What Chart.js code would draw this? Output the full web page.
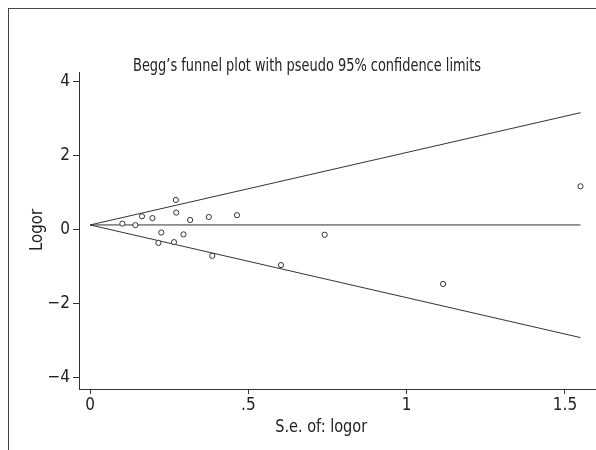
<!DOCTYPE html>
<html>
<head>
<meta charset="utf-8">
<script src="https://cdn.jsdelivr.net/npm/chart.js@4.4.1/dist/chart.umd.min.js"></script>
<style>
  html, body { margin: 0; padding: 0; background: #fff; }
  #wrap { position: relative; width: 596px; height: 450px; }
  #frame { position: absolute; left: 8px; top: 8px; right: 0; bottom: 0;
           border-top: 1.5px solid #444; border-left: 1.5px solid #444; pointer-events: none; }
  canvas { position: absolute; left: 0; top: 0; }
</style>
</head>
<body>
<div id="wrap">
  <canvas id="grafico" width="596" height="450"></canvas>
  <div id="frame"></div>
</div>
<script>
// standard error of each study and its log odds ratio
const seValues    = [0.102, 0.143, 0.164, 0.197, 0.271, 0.272, 0.316, 0.375, 0.464,
                     0.225, 0.216, 0.265, 0.295, 0.386, 0.603, 0.741, 1.115, 1.549];
const logorValues = [0.17, 0.13, 0.37, 0.32, 0.81, 0.47, 0.27, 0.35, 0.40,
                     -0.07, -0.35, -0.33, -0.12, -0.70, -0.95, -0.13, -1.46, 1.18];

// pseudo 95% limits and pooled estimate (endpoints at se = 0 and se = max)
const lineSe    = [0, 1.549];
const upperLim  = [0.135, 3.17];
const pooledLim = [0.135, 0.135];
const lowerLim  = [0.135, -2.91];

const xTicks = [0, 0.5, 1, 1.5];
const xTickLabels = ['0', '.5', '1', '1.5'];
const yTicks = [-4, -2, 0, 2, 4];
const yTickLabels = ['\u22124', '\u22122', '0', '2', '4'];

const fontFam = '"Liberation Sans Narrow", "DejaVu Sans Condensed", "Roboto Condensed", sans-serif';
const ink = '#222';
const lineInk = '#333';

const toPoints = (xs, ys) => xs.map((x, i) => ({ x: x, y: ys[i] }));

const lineSet = (ys) => ({
    type: 'line',
    data: toPoints(lineSe, ys),
    borderColor: lineInk,
    borderWidth: 1,
    pointRadius: 0,
    fill: false,
    order: 2
});

// narrow text: squeeze horizontally so it fits the width of the original condensed face
const drawNarrow = (ctx, text, x, y, size, width, angle) => {
    ctx.save();
    ctx.font = size + 'px ' + fontFam;
    const w = ctx.measureText(text).width;
    ctx.translate(x, y);
    if (angle) ctx.rotate(angle);
    ctx.scale(Math.min(1, width / w), 1);
    ctx.fillText(text, 0, 0);
    ctx.restore();
};

const textPlugin = {
    id: 'textos',
    afterDraw(chart) {
        const ctx = chart.ctx;
        const xs = chart.scales.x;
        ctx.save();
        ctx.fillStyle = ink;
        ctx.textAlign = 'center';
        ctx.textBaseline = 'middle';
        drawNarrow(ctx, 'Begg\u2019s funnel plot with pseudo 95% confidence limits', 307, 66, 18, 348);
        drawNarrow(ctx, 'S.e. of: logor', xs.getPixelForValue(0.73), 427, 18, 92);
        drawNarrow(ctx, 'Logor', 37, chart.scales.y.getPixelForValue(0), 18, 42, -Math.PI / 2);
        ctx.restore();
    }
};

new Chart(document.getElementById('grafico'), {
    type: 'scatter',
    data: {
        datasets: [
            {
                data: toPoints(seValues, logorValues),
                pointStyle: 'circle',
                pointRadius: 2.6,
                pointBorderWidth: 1,
                borderColor: lineInk,
                backgroundColor: '#fff',
                order: 1
            },
            lineSet(upperLim),
            lineSet(pooledLim),
            lineSet(lowerLim)
        ]
    },
    options: {
        responsive: false,
        animation: false,
        layout: { autoPadding: false, padding: { top: 72, left: 0, right: 0, bottom: 0 } },
        plugins: {
            legend: { display: false },
            tooltip: { enabled: false },
            title: { display: false }
        },
        scales: {
            x: {
                type: 'linear',
                min: -0.035,
                max: 1.598,
                afterBuildTicks: (s) => { s.ticks = xTicks.map(v => ({ value: v })); },
                afterFit: (s) => { s.height = 61; },
                ticks: {
                    autoSkip: false,
                    maxRotation: 0,
                    padding: 1,
                    color: ink,
                    font: { family: fontFam, size: 17 },
                    callback: (v) => xTickLabels[xTicks.indexOf(v)]
                },
                grid: { drawOnChartArea: false, tickLength: 5, color: lineInk, tickColor: lineInk },
                border: { color: lineInk, width: 1 }
            },
            y: {
                type: 'linear',
                min: -4.3,
                max: 4.27,
                afterBuildTicks: (s) => { s.ticks = yTicks.map(v => ({ value: v })); },
                afterFit: (s) => { s.width = 79; },
                ticks: {
                    autoSkip: false,
                    padding: 3,
                    color: ink,
                    font: { family: fontFam, size: 17 },
                    callback: (v) => yTickLabels[yTicks.indexOf(v)]
                },
                grid: { drawOnChartArea: false, tickLength: 6, color: lineInk, tickColor: lineInk },
                border: { color: lineInk, width: 1 }
            }
        }
    },
    plugins: [textPlugin]
});
</script>
</body>
</html>
